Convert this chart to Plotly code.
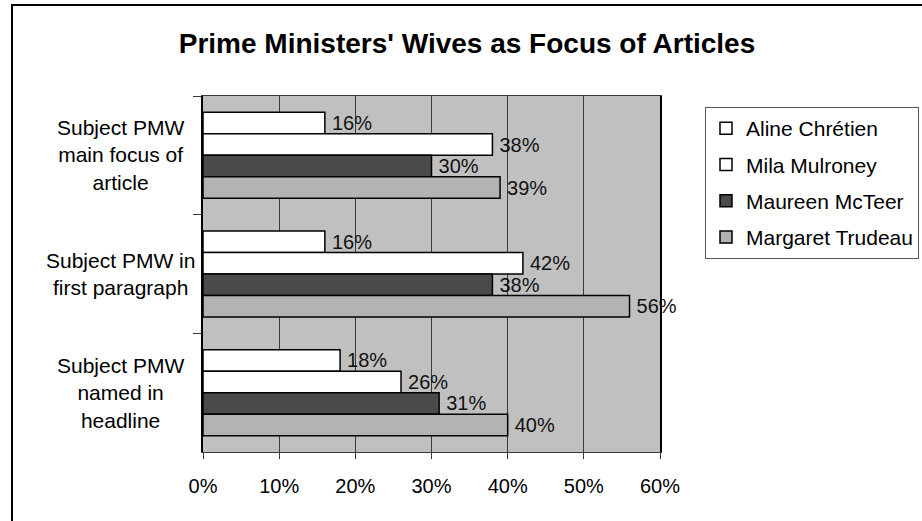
import plotly.graph_objects as go

# ---- data ----
categories = [
    "Subject PMW<br>main focus of<br>article",
    "Subject PMW in<br>first paragraph",
    "Subject PMW<br>named in<br>headline",
]
series_names = ["Aline Chrétien", "Mila Mulroney", "Maureen McTeer", "Margaret Trudeau"]
aline = [16, 16, 18]
mila = [38, 42, 26]
maureen = [30, 38, 31]
margaret = [39, 56, 40]
x_ticks = [0, 10, 20, 30, 40, 50, 60]
x_tick_labels = ["0%", "10%", "20%", "30%", "40%", "50%", "60%"]

series_values = [aline, mila, maureen, margaret]
fill_colors = ["#ffffff", "#ffffff", "#4a4a4a", "#b3b3b3"]

FONT = "Liberation Sans, Arial, sans-serif"
W, H = 922, 521
L, R, T, B = 203, 262, 96, 69
PW, PH = W - L - R, H - T - B

def px_x(p):
    return (p - L) / PW

def px_y(q):
    return 1 - (q - T) / PH

fig = go.Figure()
for i, (name, vals, col) in enumerate(zip(series_names, series_values, fill_colors)):
    fig.add_trace(go.Bar(
        name=name,
        y=categories,
        x=vals,
        orientation="h",
        marker=dict(color=col, line=dict(color="#000000", width=1.5)),
        text=[f"\u2009{v}%" for v in vals],
        textposition="outside",
        constraintext="none",
        cliponaxis=False,
        textfont=dict(family=FONT, size=20, color="#111111"),
        legendgroup=f"g{i}",
        hoverinfo="skip",
    ))

# category labels, centered multi-line
for c in categories:
    fig.add_annotation(
        x=px_x(120), xref="paper", xanchor="center",
        y=c, yref="y", yanchor="middle",
        text=c, showarrow=False, align="center",
        font=dict(family=FONT, size=21, color="#000000"),
    )

# outer chart border
fig.add_shape(
    type="rect", xref="paper", yref="paper",
    x0=px_x(12), x1=px_x(926), y0=px_y(526), y1=px_y(5),
    line=dict(color="#000000", width=2), fillcolor="rgba(0,0,0,0)", layer="above",
)

fig.update_layout(
    width=W, height=H,
    margin=dict(l=L, r=R, t=T, b=B, autoexpand=False),
    paper_bgcolor="#ffffff",
    plot_bgcolor="#c0c0c0",
    barmode="group",
    bargap=0.275,
    bargroupgap=0,
    title=dict(
        text="<b>Prime Ministers' Wives as Focus of Articles</b>",
        x=467 / W, xref="container", xanchor="center",
        y=1 - 43 / H, yref="container", yanchor="middle",
        font=dict(family=FONT, size=28, color="#000000"),
    ),
    font=dict(family=FONT, color="#000000"),
    legend=dict(
        x=px_x(705), xanchor="left",
        y=px_y(107), yanchor="top",
        bordercolor="#555555", borderwidth=1,
        bgcolor="#ffffff",
        font=dict(family=FONT, size=21, color="#000000"),
        traceorder="grouped",
        tracegroupgap=6,
    ),
    showlegend=True,
    xaxis=dict(
        range=[0, 60],
        tickvals=x_ticks,
        ticktext=x_tick_labels,
        showgrid=True, gridcolor="#3a3a3a", gridwidth=1,
        zeroline=False,
        showline=True, linecolor="#3a3a3a", linewidth=1, mirror=True,
        ticks="outside", ticklen=6, tickcolor="#3a3a3a",
        tickfont=dict(family=FONT, size=20, color="#000000"),
        ticklabelstandoff=10,
        fixedrange=True,
    ),
    yaxis=dict(
        categoryorder="array",
        categoryarray=categories,
        autorange="reversed",
        showticklabels=False,
        ticks="outside", ticklen=8, tickcolor="#3a3a3a",
        tickson="boundaries",
        showgrid=False,
        showline=True, linecolor="#000000", linewidth=1.5, mirror=True,
        fixedrange=True,
    ),
)

fig.write_html("out.html")
